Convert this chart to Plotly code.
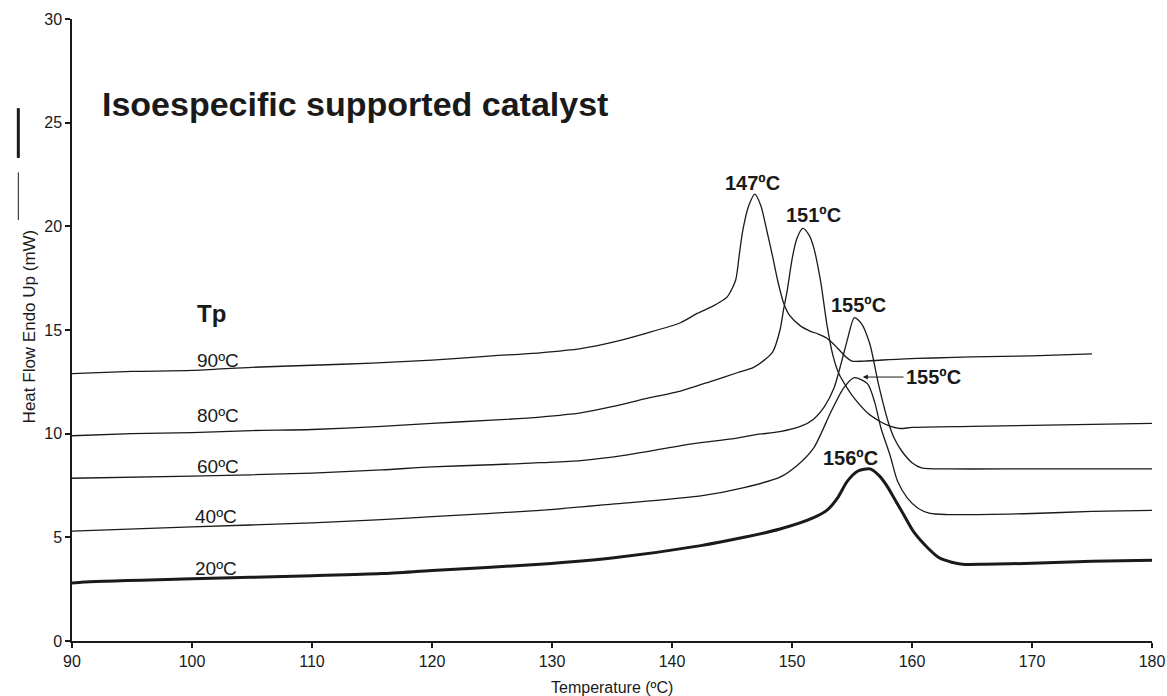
import plotly.graph_objects as go

# ---- data ----
x90 = [90, 95, 100, 105, 110, 115, 120, 125, 129, 132.4, 135, 137.9, 140.7, 142.1, 143.4, 144.6, 145.3,
       145.6, 145.9, 146.4, 146.9, 147.4, 147.9, 148.4, 148.8, 149.3, 149.8, 150.7, 151.5, 152.2,
       152.9, 153.5, 154.0, 154.5, 155.0, 156, 159, 161.8, 165, 170, 175]
y90 = [12.9, 13.0, 13.05, 13.2, 13.3, 13.4, 13.55, 13.75, 13.9, 14.1, 14.4, 14.85, 15.35, 15.8, 16.15, 16.6, 17.4,
       18.6, 19.8, 21.0, 21.55, 21.0, 19.8, 18.5, 17.4, 16.3, 15.7, 15.2, 14.95, 14.8,
       14.6, 14.3, 14.0, 13.7, 13.5, 13.5, 13.6, 13.65, 13.7, 13.75, 13.85]

x80 = [90, 95, 100, 105, 110, 115.8, 120, 125, 129, 132.4, 135, 137.9, 140.7, 143.4, 145.5, 146.8, 147.8,
       148.4, 149.0, 149.3, 149.6, 150.0, 150.4, 150.9, 151.4, 151.8, 152.4, 152.9, 153.4, 153.9, 154.6,
       155.2, 156.3, 157.3, 158.0, 159.0, 160, 165, 170, 175, 180]
y80 = [9.9, 10.0, 10.05, 10.15, 10.2, 10.35, 10.5, 10.65, 10.8, 11.0, 11.3, 11.7, 12.05, 12.55, 12.95, 13.2, 13.6,
       13.95, 15.0, 16.0, 16.9, 18.4, 19.4, 19.9, 19.6, 19.0, 17.3, 15.3, 13.8, 12.9, 12.2,
       11.7, 11.0, 10.6, 10.4, 10.25, 10.3, 10.35, 10.4, 10.45, 10.5]

x60 = [90, 100, 110, 115.8, 120, 125, 129, 132.4, 136, 141.5, 145, 147, 149, 150.7, 151.8, 152.7, 153.5,
       154.1, 154.6, 155.2, 155.8, 156.5, 157.2, 158.0, 158.5, 159.1, 160, 160.8, 163, 170, 180]
y60 = [7.85, 7.95, 8.1, 8.25, 8.4, 8.5, 8.6, 8.7, 8.95, 9.5, 9.75, 9.95, 10.1, 10.35, 10.7, 11.3, 12.2,
       13.4, 14.5, 15.6, 15.3, 14.3, 12.4, 10.6, 9.8, 9.2, 8.6, 8.35, 8.3, 8.3, 8.3]

x40 = [90, 100, 110, 115.8, 120, 129, 135, 142.4, 146, 149, 150.5, 151.8, 152.5, 153.2, 154.3, 155.2,
       156.3, 156.9, 157.4, 158.2, 158.8, 159.6, 160.5, 161.5, 163, 170, 175, 180]
y40 = [5.3, 5.5, 5.7, 5.85, 6.0, 6.3, 6.6, 7.0, 7.4, 7.9, 8.5, 9.3, 10.1, 11.0, 12.2, 12.7,
       12.4, 11.5, 10.3, 8.9, 7.7, 6.9, 6.4, 6.15, 6.1, 6.15, 6.25, 6.3]

x20 = [90, 91, 100, 110, 115.8, 120, 129, 135, 142.4, 146, 149, 151.8, 153.0, 153.8, 154.6, 155.5, 156.5,
       157.3, 158.0, 158.5, 159.3, 160.1, 161.3, 162.3, 163.3, 164.2, 166, 170, 175, 180]
y20 = [2.8, 2.85, 3.0, 3.15, 3.25, 3.4, 3.7, 4.0, 4.6, 5.0, 5.4, 5.95, 6.35, 6.9, 7.7, 8.2, 8.3,
       7.95, 7.4, 6.9, 6.1, 5.3, 4.5, 4.0, 3.8, 3.7, 3.7, 3.75, 3.85, 3.9]

series_labels = ["90ºC", "80ºC", "60ºC", "40ºC", "20ºC"]
peak_labels = ["147ºC", "151ºC", "155ºC", "155ºC", "156ºC"]
x_ticks = [90, 100, 110, 120, 130, 140, 150, 160, 170, 180]
y_ticks = [0, 5, 10, 15, 20, 25, 30]

FONT = "Liberation Sans, Arial, Helvetica, sans-serif"
INK = "#1a1a1a"

fig = go.Figure()
curves = [(x90, y90, 1.3), (x80, y80, 1.3), (x60, y60, 1.3), (x40, y40, 1.3), (x20, y20, 3.0)]
for (xs, ys, w), name in zip(curves, series_labels):
    fig.add_trace(go.Scatter(x=xs, y=ys, mode="lines", name=name,
                             line=dict(color=INK, width=w, shape="spline", smoothing=0.7),
                             showlegend=False, hoverinfo="skip"))

# series labels (Tp values)
lab_pos = [(102.2, 13.55), (102.2, 10.9), (102.2, 8.43), (102.0, 6.02), (102.0, 3.51)]
for (lx, ly), t in zip(lab_pos, series_labels):
    fig.add_annotation(x=lx, y=ly, text=t, showarrow=False,
                       font=dict(family=FONT, size=19, color=INK))

fig.add_annotation(x=101.6, y=15.8, text="<b>Tp</b>", showarrow=False,
                   font=dict(family=FONT, size=24, color=INK))

# peak labels
peak_pos = [(146.7, 22.1), (151.8, 20.55), (155.5, 16.2)]
for (px, py), t in zip(peak_pos, [peak_labels[0], peak_labels[1], peak_labels[2]]):
    fig.add_annotation(x=px, y=py, text="<b>" + t + "</b>", showarrow=False,
                       font=dict(family=FONT, size=20, color=INK))
fig.add_annotation(x=154.9, y=8.82, text="<b>" + peak_labels[4] + "</b>", showarrow=False,
                   font=dict(family=FONT, size=20, color=INK))
# arrowed label for 40 ºC peak
fig.add_annotation(x=155.9, y=12.73, ax=159.3, ay=12.73, axref="x", ayref="y",
                   text="<b>" + peak_labels[3] + "</b>", xanchor="left", showarrow=True,
                   arrowhead=2, arrowsize=1, arrowwidth=1, arrowcolor=INK, standoff=0,
                   font=dict(family=FONT, size=20, color=INK))

# title
fig.add_annotation(x=92.3, y=25.9, text="<b>Isoespecific supported catalyst</b>", showarrow=False,
                   xanchor="left", font=dict(family=FONT, size=34, color=INK))

# axis titles
fig.add_annotation(x=0.5, y=0, xref="paper", yref="paper", yshift=-46, yanchor="middle",
                   text="Temperature (ºC)", showarrow=False,
                   font=dict(family=FONT, size=16, color=INK))
fig.add_annotation(x=0, y=15.15, xref="paper", yref="y", xshift=-54, textangle=-90,
                   text="Heat Flow Endo Up (mW)", showarrow=False,
                   font=dict(family=FONT, size=17, color=INK))
# legend-like marks beside the y title
fig.add_shape(type="line", xref="paper", yref="y", x0=-0.0497, x1=-0.0497, y0=20.3, y1=22.6,
              line=dict(color=INK, width=1))
fig.add_shape(type="line", xref="paper", yref="y", x0=-0.0497, x1=-0.0497, y0=23.3, y1=25.7,
              line=dict(color=INK, width=3))

axis_common = dict(showline=True, linecolor=INK, linewidth=1.5, ticks="outside", ticklen=5,
                   tickcolor=INK, tickwidth=1.5, showgrid=False, zeroline=False, automargin=False,
                   tickfont=dict(family=FONT, size=16, color=INK))
fig.update_xaxes(range=[90, 180], tickvals=x_ticks, **axis_common)
fig.update_yaxes(range=[0, 30], tickvals=y_ticks, **axis_common)

fig.update_layout(width=1167, height=696, margin=dict(l=72, r=15, t=19, b=55),
                  paper_bgcolor="white", plot_bgcolor="white")
fig.write_html("out.html")
